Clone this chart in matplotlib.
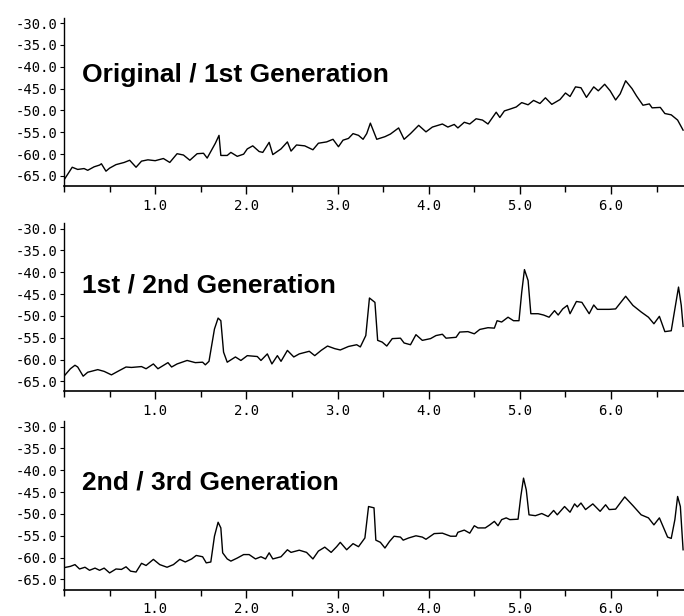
import matplotlib
matplotlib.use("Agg")
import matplotlib.pyplot as plt
from matplotlib.ticker import MultipleLocator, FormatStrFormatter

plt.rcParams['axes.unicode_minus'] = False

# --- data (x in kHz-ish units, y in dB) ---
x1 = [0.00, 0.09, 0.15, 0.22, 0.26, 0.33, 0.39, 0.41, 0.46, 0.50, 0.57, 0.66, 0.72, 0.79,
      0.85, 0.92, 1.00, 1.09, 1.16, 1.24, 1.31, 1.38, 1.46, 1.53, 1.57, 1.66, 1.70, 1.72,
      1.79, 1.83, 1.90, 1.97, 2.01, 2.07, 2.14, 2.18, 2.25, 2.29, 2.38, 2.45, 2.49, 2.55,
      2.64, 2.73, 2.79, 2.88, 2.95, 3.01, 3.06, 3.12, 3.17, 3.23, 3.28, 3.32, 3.36, 3.43,
      3.52, 3.58, 3.67, 3.73, 3.80, 3.89, 3.97, 4.04, 4.15, 4.21, 4.28, 4.32, 4.39, 4.45,
      4.52, 4.59, 4.65, 4.74, 4.78, 4.83, 4.89, 4.96, 5.02, 5.09, 5.15, 5.22, 5.28, 5.35,
      5.44, 5.50, 5.55, 5.61, 5.67, 5.73, 5.81, 5.86, 5.93, 5.99, 6.05, 6.10, 6.16, 6.23,
      6.28, 6.35, 6.42, 6.45, 6.54, 6.59, 6.66, 6.73, 6.79]
y1 = [-65.9, -63.0, -63.5, -63.3, -63.7, -62.9, -62.5, -62.2, -63.9, -63.2, -62.4, -61.9, -61.4, -63.0,
      -61.6, -61.3, -61.5, -61.0, -61.9, -59.9, -60.2, -61.4, -59.9, -59.8, -60.9, -57.5, -55.7, -60.3,
      -60.3, -59.6, -60.5, -60.0, -58.8, -58.1, -59.4, -59.6, -57.3, -60.1, -58.8, -57.2, -59.3, -57.9,
      -58.1, -59.0, -57.5, -57.2, -56.6, -58.3, -56.8, -56.4, -55.3, -55.7, -56.6, -55.3, -52.9, -56.6,
      -56.0, -55.4, -54.0, -56.6, -55.3, -53.4, -54.9, -53.8, -53.1, -53.8, -53.2, -54.0, -52.7, -53.1,
      -51.9, -52.2, -53.1, -50.4, -51.6, -50.1, -49.7, -49.2, -48.2, -48.7, -47.7, -48.4, -47.1, -48.6,
      -47.5, -46.0, -46.8, -44.6, -44.8, -47.0, -44.6, -45.5, -44.0, -45.5, -47.6, -46.2, -43.2, -45.0,
      -46.7, -48.8, -48.5, -49.4, -49.3, -50.7, -51.0, -52.2, -54.5]

x2 = [0.00, 0.07, 0.12, 0.15, 0.21, 0.26, 0.37, 0.44, 0.52, 0.59, 0.68, 0.74, 0.85, 0.90,
      0.98, 1.03, 1.14, 1.18, 1.24, 1.35, 1.44, 1.52, 1.55, 1.59, 1.65, 1.69, 1.72, 1.75,
      1.79, 1.88, 1.94, 2.01, 2.12, 2.16, 2.23, 2.28, 2.34, 2.38, 2.45, 2.52, 2.58, 2.69,
      2.75, 2.82, 2.89, 2.97, 3.03, 3.12, 3.21, 3.25, 3.31, 3.35, 3.41, 3.44, 3.49, 3.54,
      3.60, 3.69, 3.73, 3.80, 3.86, 3.93, 4.02, 4.08, 4.15, 4.19, 4.30, 4.34, 4.43, 4.50,
      4.56, 4.65, 4.72, 4.75, 4.80, 4.87, 4.93, 4.99, 5.02, 5.05, 5.09, 5.12, 5.20, 5.26,
      5.32, 5.38, 5.42, 5.47, 5.52, 5.55, 5.62, 5.68, 5.76, 5.81, 5.85, 5.92, 5.98, 6.05,
      6.16, 6.24, 6.33, 6.41, 6.47, 6.53, 6.59, 6.66, 6.70, 6.74, 6.77, 6.79]
y2 = [-63.8, -62.1, -61.3, -61.7, -63.8, -62.9, -62.3, -62.7, -63.5, -62.7, -61.7, -61.8, -61.6, -62.1,
      -61.0, -62.1, -60.7, -61.7, -61.0, -60.2, -60.7, -60.6, -61.2, -60.4, -53.0, -50.5, -51.1, -58.3,
      -60.6, -59.4, -60.2, -59.1, -59.3, -60.2, -58.7, -61.0, -59.1, -60.4, -57.9, -59.4, -58.7, -58.1,
      -59.1, -57.9, -56.9, -57.5, -57.8, -57.0, -56.6, -57.1, -54.5, -45.9, -46.9, -55.6, -56.0, -56.9,
      -55.2, -55.1, -56.2, -56.6, -54.3, -55.6, -55.2, -54.5, -54.2, -55.1, -54.9, -53.7, -53.6, -54.1,
      -53.1, -52.7, -52.8, -51.1, -51.4, -50.3, -51.1, -51.1, -44.6, -39.4, -41.9, -49.5, -49.5, -49.8,
      -50.3, -48.8, -49.8, -48.4, -47.6, -49.5, -46.7, -46.9, -49.5, -47.5, -48.5, -48.5, -48.5, -48.4,
      -45.5, -47.6, -49.1, -50.3, -51.8, -50.1, -53.6, -53.4, -48.4, -43.4, -47.6, -52.4]

x3 = [0.00, 0.07, 0.12, 0.17, 0.23, 0.28, 0.34, 0.39, 0.44, 0.50, 0.57, 0.63, 0.68, 0.73,
      0.79, 0.85, 0.90, 0.98, 1.05, 1.13, 1.20, 1.27, 1.33, 1.40, 1.45, 1.52, 1.56, 1.61,
      1.65, 1.69, 1.72, 1.74, 1.79, 1.83, 1.90, 1.97, 2.03, 2.10, 2.16, 2.21, 2.25, 2.29,
      2.38, 2.45, 2.49, 2.58, 2.66, 2.73, 2.79, 2.86, 2.93, 2.99, 3.03, 3.10, 3.17, 3.23,
      3.30, 3.34, 3.40, 3.42, 3.47, 3.52, 3.57, 3.62, 3.69, 3.72, 3.78, 3.86, 3.93, 3.97,
      4.06, 4.15, 4.24, 4.30, 4.32, 4.39, 4.45, 4.50, 4.54, 4.62, 4.67, 4.72, 4.76, 4.80,
      4.85, 4.89, 4.98, 5.01, 5.04, 5.07, 5.10, 5.17, 5.24, 5.31, 5.37, 5.41, 5.49, 5.55,
      5.60, 5.63, 5.67, 5.72, 5.80, 5.88, 5.94, 5.98, 6.05, 6.15, 6.24, 6.33, 6.41, 6.47,
      6.53, 6.62, 6.66, 6.70, 6.73, 6.76, 6.79]
y3 = [-62.3, -62.0, -61.6, -62.6, -62.2, -62.9, -62.4, -62.9, -62.4, -63.5, -62.6, -62.7, -62.1, -63.1,
      -63.3, -61.3, -61.8, -60.4, -61.6, -62.2, -61.6, -60.4, -61.0, -60.3, -59.5, -59.8, -61.2, -61.0,
      -55.1, -51.9, -53.2, -58.9, -60.3, -60.8, -60.1, -59.3, -59.3, -60.3, -59.8, -60.3, -58.9, -60.3,
      -59.8, -58.2, -58.8, -58.3, -58.8, -60.3, -58.5, -57.6, -58.8, -57.5, -56.5, -58.2, -56.8, -57.5,
      -55.5, -48.3, -48.6, -56.0, -56.5, -57.8, -56.3, -55.1, -55.3, -56.0, -55.5, -55.0, -55.3, -55.8,
      -54.5, -54.4, -55.1, -55.1, -54.2, -53.7, -54.4, -52.7, -53.2, -53.2, -52.5, -51.7, -52.7, -51.3,
      -50.9, -51.3, -51.2, -46.0, -41.8, -44.5, -50.2, -50.4, -49.9, -50.6, -49.2, -50.2, -48.3, -49.6,
      -47.7, -48.4, -47.5, -49.0, -47.7, -49.4, -47.9, -49.0, -48.9, -46.1, -48.1, -50.2, -50.9, -52.5,
      -50.9, -55.3, -55.6, -51.3, -46.0, -48.3, -58.2]

labels = ["Original / 1st Generation", "1st / 2nd Generation", "2nd / 3rd Generation"]
label_y = [-43.5, -44.7, -44.3]

yticks = [-30, -35, -40, -45, -50, -55, -60, -65]
xticks = [1, 2, 3, 4, 5, 6]

fig = plt.figure(figsize=(6.84, 6.16), dpi=100)

# axes bottoms in figure fraction
bottoms = [0.698, 0.3645, 0.0430]
h = 0.273

series = [(x1, y1), (x2, y2), (x3, y3)]
for i, (xs, ys) in enumerate(series):
    ax = fig.add_axes([0.0936, bottoms[i], 0.9064, h])
    ax.plot(xs, ys, color='black', lw=1.0)
    ax.set_xlim(0, 6.8)
    ax.set_ylim(-67.3, -28.8)

    ax.spines['top'].set_visible(False)
    ax.spines['right'].set_visible(False)
    ax.spines['left'].set_linewidth(1.0)
    ax.spines['bottom'].set_linewidth(1.2)

    ax.set_yticks(yticks)
    ax.yaxis.set_major_formatter(FormatStrFormatter('%.1f'))
    ax.xaxis.set_minor_locator(MultipleLocator(0.5))
    # 0.0 is not labelled in the reference
    ax.set_xticks(xticks)
    ax.set_xticklabels(['%.1f' % v for v in xticks])

    ax.tick_params(axis='y', direction='out', length=3, width=0.8, pad=1.5)
    ax.tick_params(axis='x', which='major', direction='out', length=5.5, width=1.0, pad=3.5)
    ax.tick_params(axis='x', which='minor', direction='out', length=4.3, width=1.0)

    for lab in ax.get_xticklabels() + ax.get_yticklabels():
        lab.set_family('DejaVu Sans Mono')
        lab.set_fontsize(10)

    ax.text(0.2, label_y[i], labels[i], fontsize=19, fontweight='bold',
            family='Liberation Sans', va='baseline', ha='left')

fig.savefig('out.png', dpi=100)
